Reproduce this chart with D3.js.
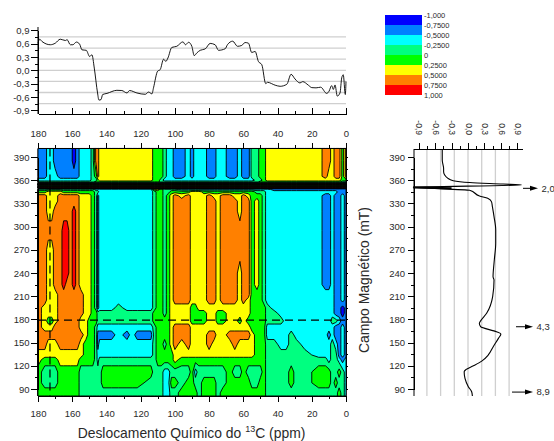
<!DOCTYPE html>
<html><head><meta charset="utf-8">
<script src="https://cdn.jsdelivr.net/npm/d3@7"></script>
<style>
html,body{margin:0;padding:0;background:#fff}
svg{display:block}
text{font-family:"Liberation Sans",Arial,sans-serif;fill:#2a2a2a}
</style></head><body>
<svg id="c" width="554" height="441"></svg>
<script>
// ---- data ----
const ppmTicks=[180,160,140,120,100,80,60,40,20,0];
const ppmMinor=[170,150,130,110,90,70,50,30,10];
const fieldTicks=[390,360,330,300,270,240,210,180,150,120,90];
const fieldMinor=[375,345,315,285,255,225,195,165,135,105];
const corrTicks=[-0.9,-0.6,-0.3,0,0.3,0.6,0.9];
const corrMinor=[-0.75,-0.45,-0.15,0.15,0.45,0.75];
const corrGrid=[-0.75,-0.5,-0.25,0,0.25,0.5,0.75];
const legendLabels=["-1,000","-0,7500","-0,5000","-0,2500","0","0,2500","0,5000","0,7500","1,000"];
const bandColors=["#0000ff","#0080ff","#00ffff","#00ff80","#00ff00","#ffff00","#ff8000","#ff0000"];
const levels=[-1,-0.75,-0.5,-0.25,0,0.25,0.5,0.75];

// 1-D slice over chemical shift (top panel)
const sliceX=[180,179,177.7,172.8,169.9,167,164,163,161.1,159.6,157.6,155.7,154.3,151.8,149.8,148.5,147.1,145.2,144.4,143.2,142.2,139.7,133.9,131,128,126.5,122.2,117.3,115.4,113.4,112.5,110.1,108.6,106.6,105.3,104.1,101.8,98.9,95.3,93.8,92,90.1,88.7,87.2,85.2,82.3,79.4,76.5,74.5,70.6,69.3,66.2,63.4,60.9,59,57,55.1,53.1,51.2,49.2,46.9,45.9,41.4,38.5,34.6,32.1,29.8,26.9,25.3,22,20,17.5,14.8,11.3,9.9,8.4,7.4,6.4,5.1,3.5,2.5,1.6,0.4,0];
const sliceR=[0.61,0.70,0.65,0.575,0.61,0.70,0.67,0.69,0.575,0.575,0.635,0.59,0.46,0.45,0.31,0.35,0.05,-0.51,-0.67,-0.66,-0.545,-0.52,-0.45,-0.455,-0.51,-0.455,-0.51,-0.54,-0.49,-0.53,-0.395,-0.02,0.015,0.25,0.2,0.275,0.515,0.54,0.64,0.575,0.63,0.54,0.33,0.39,0.45,0.48,0.605,0.575,0.45,0.485,0.575,0.655,0.54,0.56,0.625,0.61,0.40,0.425,0.2,0.125,-0.3,-0.27,-0.335,-0.36,-0.315,-0.09,-0.195,-0.285,-0.255,-0.335,-0.39,-0.395,-0.38,-0.52,-0.47,-0.345,-0.43,-0.33,-0.58,-0.51,-0.17,-0.1,-0.545,-0.25];

// 1-D slice over magnetic field (right panel)
const fieldY=[400,386,375,371,362.4,359.4,357,355,353.8,350.8,347,339.6,336.6,332,325.8,312.9,295.6,278.4,256.8,235,231,209.4,187.9,177,175,170.6,164,161,155.5,144.7,134,126,120,115,112.4,103.8,93,86.5,81];
const fieldR=[-0.47,-0.47,-0.445,-0.445,-0.366,-0.27,0.03,0.64,0.975,-1,0.03,0.21,0.36,0.43,0.445,0.475,0.506,0.506,0.48,0.457,0.475,0.45,0.34,0.22,0.207,0.23,0.52,0.6,0.555,0.46,0.37,0.25,0.1,-0.04,-0.07,-0.055,0.006,0.067,0.08];

const annotations=[{mT:349.5,label:"2,0",x1:523,x2:538},{mT:170.5,label:"4,3",x1:516,x2:533},{mT:86,label:"8,9",x1:512,x2:533}];

// contour grid: band index 1..8 (blue..red) per ppm column / field row
const ppmCols=[180,176,174,172,170,167,165,163,161,159, 157,155,152,150,148,146,145,144,142,137, 133,128,125,122,114,112,110,108,106,104,102,100, 96,92,90,88,86,83,80,77,75,72, 68,65,62,60,57,55,52,50,48,46, 42,38,35,32,29,24,16,12,10,8, 6,4,2,0];
const fieldRows=[401,385,365,360,358,356.5,354.5,352.5,351,349.5,348,345,340,333,320,295,270,240,225,212,205,195,188,178,170,160,148,134,128,112,98,85,81];
const gridBands=[
"2233222221 2333477666 666665554332 2323332233 2232244556 6666666776 7757",
"2233222221 2333477666 666665554332 2323332233 2232244556 6666666776 7757",
"2233322222 2333457666 666665554332 2323332233 2232244556 6666666766 7757",
"3333333333 3333445666 666665543333 3333333333 3333334456 6666666666 6655",
"4444444444 4444455555 555555544444 4444444444 4444444555 5555555555 5544",
"1111111111 1111111111 111111111111 1111111111 1111111111 1111111111 1111",
"8888888888 8888888888 888888888888 8888888888 8888888888 8888888888 8888",
"1111111111 1111111111 111111111111 1111111111 1111111111 1111111111 1111",
"8888888888 8888888888 888888888888 8888888888 8888888888 8888888888 8888",
"1111111111 1111111111 111111111111 1111111111 1111111111 1111111111 1111",
"4444444444 4444433333 333336654444 3333333333 3333333333 2222222222 2222",
"5566665555 5555544333 333334554455 5566655555 5555554443 3333333333 3222",
"7766677777 7666542333 333334554567 6766667667 7667655543 3333333223 2232",
"7766677777 7666542333 333334554567 7766667767 7767756543 3333333223 2232",
"7766777778 7666542333 333334554567 7766667767 7767756543 3333333223 2232",
"7777778878 7666542333 333334554567 7766667767 7777756543 3333333223 2232",
"7766778878 7666542333 333334554567 7766667767 7777756543 3333333223 2232",
"7766778878 7666542333 333334554567 7766667767 7767756543 3333333223 2232",
"7766778778 7666542333 333334554567 7766667767 7767756543 3333333223 2232",
"7766677777 7766542333 333334554567 7766667767 7767755543 3333333333 2232",
"7766677777 7766542333 333334554567 7766667767 7767655543 3333333333 2232",
"7666677777 7766542333 433334554566 6655666666 6666655554 3333333333 2212",
"7666677777 7766554444 444445554566 6655556655 6666655554 4333333333 2212",
"7655677777 7665554444 444445555566 6655556655 6656555554 4433333334 4322",
"7666777777 7665543333 333334555567 7766666666 6666655553 3333333333 2232",
"7777777777 7765542222 323224555567 7766667766 7777765553 3334333323 2232",
"7766677777 7655542333 333334554567 6766667666 6766665554 4334433334 3232",
"6666666666 6655543333 333334555556 6666666666 6666665554 4444443334 4232",
"6555566666 6555543444 444444555556 5555555555 5555555554 4444444434 4323",
"5444455555 5444444455 555554443344 4453444444 5445444454 4445445554 4543",
"5444455555 5444444455 555544443355 4554455544 5555544554 4445445554 5443",
"5555555555 5444444444 444444443344 5555455545 5555555554 4444444444 4543",
"5555555555 5444444444 444444443344 5555455545 5555555554 4444444444 4543"
];

// ---- layout ----
const svg=d3.select("#c");
const x=d3.scaleLinear().domain([180,0]).range([38,346]);
const y=d3.scaleLinear().domain([90,390]).range([389,157]);
const topY=d3.scaleLinear().domain([-0.9,0.9]).range([110.3,30.3]);
const rightX=d3.scaleLinear().domain([-1,1]).range([413.2,522.8]);
const plotTop=y(401), plotBot=396, xL=x(180), xR=x(0);
const comma=v=>String(v===0?"0,0":d3.format(".1f")(v)).replace(".",",").replace("−","-");

function styleAxis(g,size){
  g.selectAll("path,line").attr("stroke","#000").attr("stroke-width",1).attr("shape-rendering","crispEdges");
  g.selectAll("text").attr("font-size",size).style("fill","#2a2a2a");
}
function ax(gen,tr,vals,len,fmt,pad,size){
  const a=gen.tickValues(vals).tickSize(len).tickSizeOuter(0).tickPadding(pad||2);
  a.tickFormat(fmt||(()=>""));
  const g=svg.append("g").attr("transform",tr).call(a);
  styleAxis(g,size||9.5);
  return g;
}

// heat map contours
const nCol=ppmCols.length,nRow=fieldRows.length;
const bandValue=b=>-1+(b-0.5)*0.25;
const gridValues=gridBands.flatMap(r=>Array.from(r.replace(/ /g,""),c=>bandValue(+c)));
const colToPpm=d3.scaleLinear().domain(d3.range(nCol)).range(ppmCols).clamp(true);
const rowToField=d3.scaleLinear().domain(d3.range(nRow)).range(fieldRows).clamp(true);
const proj=d3.geoTransform({point(px,py){this.stream.point(x(colToPpm(px-0.5)),y(rowToField(py-0.5)));}});
const contours=d3.contours().size([nCol,nRow]).thresholds(levels)(gridValues);
svg.append("g").selectAll("path").data(contours).join("path")
  .attr("d",d3.geoPath(proj))
  .attr("fill",(d,i)=>bandColors[i])
  .attr("stroke","#000").attr("stroke-width",0.9).attr("stroke-linejoin","round");

// dashed guide lines
svg.append("line").attr("x1",xL).attr("x2",xR).attr("y1",y(179)).attr("y2",y(179))
  .attr("stroke","#000").attr("stroke-width",1.2).attr("stroke-dasharray","8 5");
svg.append("line").attr("x1",x(173)).attr("x2",x(173)).attr("y1",plotTop).attr("y2",plotBot)
  .attr("stroke","#000").attr("stroke-width",1.2).attr("stroke-dasharray","8 5");

// main frame axes
ax(d3.axisLeft(y),`translate(${xL},0)`,fieldTicks,7,d=>d,1.5);
ax(d3.axisLeft(y),`translate(${xL},0)`,fieldMinor,3);
ax(d3.axisRight(y),`translate(${xR},0)`,fieldTicks.concat(fieldMinor),2);
ax(d3.axisTop(x),`translate(0,${plotTop})`,ppmTicks,5,d=>d,6);
ax(d3.axisTop(x),`translate(0,${plotTop})`,ppmMinor,3);
ax(d3.axisBottom(x),`translate(0,${plotBot})`,ppmTicks,6,d=>d,8.5);
ax(d3.axisBottom(x),`translate(0,${plotBot})`,ppmMinor,3);

// top panel
svg.append("g").selectAll("line").data(corrGrid).join("line")
  .attr("x1",xL).attr("x2",xR).attr("y1",d=>topY(d)).attr("y2",d=>topY(d))
  .attr("stroke","#cfcfcf").attr("stroke-width",1.3);
ax(d3.axisLeft(topY),`translate(${xL},0)`,corrTicks,7,comma,1.5);
ax(d3.axisLeft(topY),`translate(${xL},0)`,corrMinor,3);
svg.append("line").attr("x1",xL).attr("x2",xL).attr("y1",27).attr("y2",114).attr("stroke","#000");
ax(d3.axisTop(x),`translate(0,114)`,ppmTicks,6);
ax(d3.axisTop(x),`translate(0,114)`,ppmMinor,3);
svg.append("path").datum(d3.range(sliceX.length))
  .attr("d",d3.line().curve(d3.curveMonotoneX).x(i=>x(sliceX[i])).y(i=>topY(sliceR[i])))
  .attr("fill","none").attr("stroke","#000").attr("stroke-width",0.9).attr("stroke-linejoin","round");

// right panel
svg.append("g").selectAll("line").data(corrGrid).join("line")
  .attr("x1",d=>rightX(d)).attr("x2",d=>rightX(d)).attr("y1",149).attr("y2",plotBot)
  .attr("stroke","#cfcfcf").attr("stroke-width",1.3);
ax(d3.axisLeft(y),`translate(414,0)`,fieldTicks,6,d=>d,3);
ax(d3.axisLeft(y),`translate(414,0)`,fieldMinor,3);
svg.append("line").attr("x1",414).attr("x2",414).attr("y1",149).attr("y2",plotBot).attr("stroke","#000");
const rt=ax(d3.axisTop(rightX),`translate(0,149)`,corrTicks,6,comma,8,8.5);
rt.selectAll("text").attr("transform","rotate(90)").attr("text-anchor","end")
  .attr("x",-14).attr("y",0).attr("dy","0.33em");
ax(d3.axisTop(rightX),`translate(0,149)`,corrMinor,3);
svg.append("path").datum(d3.range(fieldY.length))
  .attr("d",d3.line().curve(d3.curveMonotoneY).x(i=>rightX(fieldR[i])).y(i=>y(fieldY[i])))
  .attr("fill","none").attr("stroke","#000").attr("stroke-width",1.1).attr("stroke-linejoin","round");

// thickened tail of the sharp feature near g = 2,0
svg.append("path").datum([[-1,350.8],[-0.3,349.6]])
  .attr("d",d3.line().x(d=>rightX(d[0])).y(d=>y(d[1])))
  .attr("fill","none").attr("stroke","#000").attr("stroke-width",2.2);

// arrows with g values
const ann=svg.append("g").selectAll("g").data(annotations).join("g");
ann.append("line").attr("x1",d=>d.x1).attr("x2",d=>d.x2-3).attr("y1",d=>y(d.mT)).attr("y2",d=>y(d.mT))
  .attr("stroke","#000").attr("stroke-width",1);
ann.append("path").attr("d",d=>`M${d.x2},${y(d.mT)}l-8,-2.5l0,5z`).attr("fill","#000");
ann.append("text").attr("x",d=>d.x2+3.5).attr("y",d=>y(d.mT)).attr("dy","0.35em").attr("font-size",9.5).text(d=>d.label);

// legend
const lg=svg.append("g");
const legendY=d3.scaleLinear().domain([0,8]).range([15,95]);
lg.selectAll("rect").data(bandColors).join("rect")
  .attr("x",385).attr("width",37).attr("y",(d,i)=>legendY(i)).attr("height",(d,i)=>legendY(i+1)-legendY(i)).attr("fill",d=>d);
lg.selectAll("text").data(legendLabels).join("text")
  .attr("x",424).attr("y",(d,i)=>legendY(i)).attr("dy","0.35em").attr("font-size",7.5).text(d=>d);

// axis titles
const t=svg.append("text").attr("x",191.5).attr("y",438).attr("text-anchor","middle").attr("font-size",13.9);
t.append("tspan").text("Deslocamento Químico do ");
t.append("tspan").attr("font-size",9).attr("dy",-6).text("13");
t.append("tspan").attr("dy",6).text("C (ppm)");
svg.append("text").attr("transform","translate(369,280) rotate(-90)").attr("text-anchor","middle").attr("font-size",13.9).text("Campo Magnético (mT)");
</script>
</body></html>
